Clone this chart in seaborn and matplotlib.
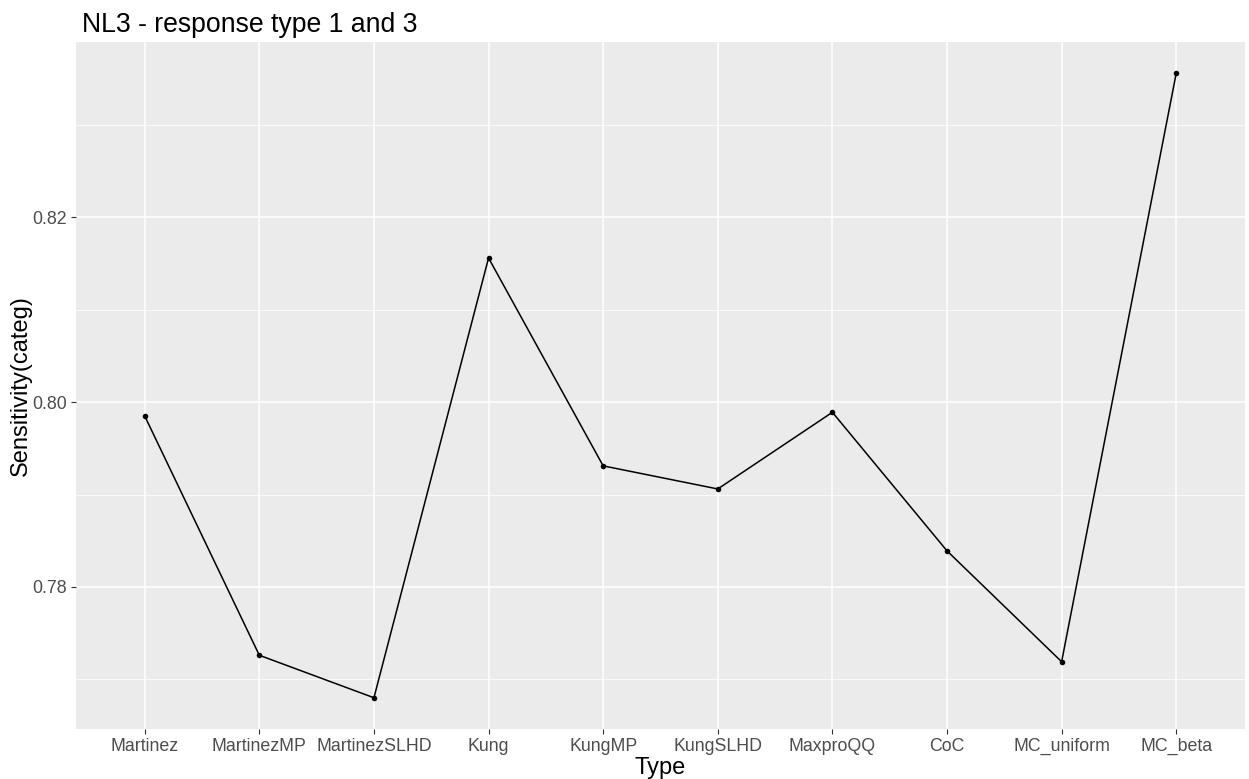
import matplotlib
matplotlib.use("Agg")
import matplotlib.pyplot as plt
import seaborn as sns
import pandas as pd
import numpy as np
from matplotlib.ticker import FixedLocator

types = ["Martinez", "MartinezMP", "MartinezSLHD", "Kung", "KungMP",
         "KungSLHD", "MaxproQQ", "CoC", "MC_uniform", "MC_beta"]
sensitivity = [0.7985, 0.7726, 0.7680, 0.8156, 0.7931,
               0.7906, 0.7989, 0.7839, 0.7719, 0.8356]
y_ticks = [0.78, 0.80, 0.82]
y_minor = [0.77, 0.79, 0.81, 0.83]

df = pd.DataFrame({"Type": types, "Sensitivity": sensitivity})

sns.set_theme(style="darkgrid")
plt.rcParams['font.family'] = ['Liberation Sans', 'DejaVu Sans']

fig = plt.figure(figsize=(12.49, 7.79), dpi=100)
ax = fig.add_axes([0.0608, 0.0642, 0.9968 - 0.0608, 0.9461 - 0.0642])
ax.set_facecolor("#EBEBEB")

sns.lineplot(data=df, x="Type", y="Sensitivity", sort=False, color="black",
             linewidth=1.1, marker="o", markersize=4, markeredgewidth=0, ax=ax)

n = len(types)
ax.set_xlim(-0.6, n - 1 + 0.6)
lo, hi = min(sensitivity), max(sensitivity)
pad = (hi - lo) * 0.05
ax.set_ylim(lo - pad, hi + pad)

ax.set_xticks(range(n))
ax.set_xticklabels(types)
ax.yaxis.set_major_locator(FixedLocator(y_ticks))
ax.yaxis.set_minor_locator(FixedLocator(y_minor))
ax.set_yticklabels([f"{v:.2f}" for v in y_ticks])

ax.grid(which="major", color="white", linewidth=1.1)
ax.grid(which="minor", axis="y", color="white", linewidth=0.55)
ax.set_axisbelow(True)
for s in ax.spines.values():
    s.set_visible(False)

ax.tick_params(axis="both", which="major", length=3.5, width=0.8, color="#333333",
               labelsize=12.8, labelcolor="#4D4D4D", pad=3, direction="out")
ax.tick_params(axis="both", which="minor", length=0)
ax.xaxis.set_ticks_position("bottom")
ax.yaxis.set_ticks_position("left")

ax.set_xlabel("Type", fontsize=17, color="black", labelpad=1)
ax.set_ylabel("Sensitivity(categ)", fontsize=17, color="black", labelpad=0)
ax.set_title("NL3 - response type 1 and 3", fontsize=19.2, loc="left", x=0.005, pad=7, color="black")

fig.savefig("out.png", dpi=100)
